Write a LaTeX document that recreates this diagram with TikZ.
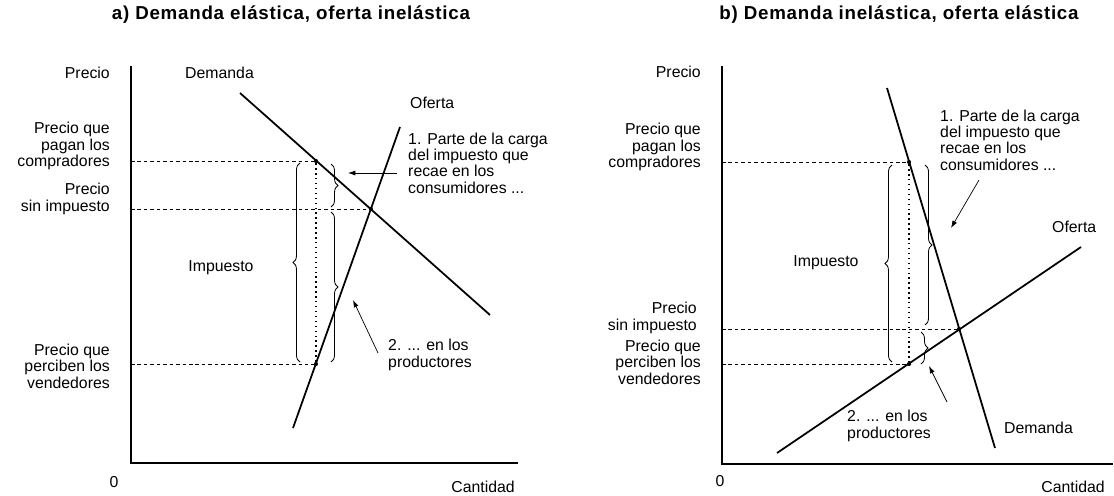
\documentclass[tikz,border=0pt]{standalone}
\usepackage{fontspec}
\setmainfont{Liberation Sans}
\newfontfamily\ttlfont[LetterSpace=4]{Liberation Sans}
\usetikzlibrary{positioning,arrows.meta,decorations.pathreplacing}

\begin{document}
\begin{tikzpicture}[
x=0.03cm, y=-0.03cm,
lbl/.style={font=\fontsize{13.5}{14}\selectfont, inner sep=0pt, align=left},
axlbl/.style={lbl, align=right, anchor=east},
ttl/.style={font=\ttlfont\fontsize{16}{16}\selectfont\bfseries, inner sep=0pt},
curve/.style={line width=1.5pt},
axis/.style={line width=1.1pt},
guide/.style={line width=0.6pt, dash pattern=on 3pt off 2.5pt},
qline/.style={line width=0.9pt, dash pattern=on 1.2pt off 3pt},
brc/.style={decorate, decoration={brace, amplitude=6pt}, line width=0.7pt},
arrow/.style={-{Latex[length=2.2mm, width=1.5mm]}, line width=0.6pt},
dot/.style={circle, fill, inner sep=0pt, minimum size=3.5pt}
]
\useasboundingbox (0,0) rectangle (1114,495);

\node[ttl] (ta) at (291,15) {a) Demanda elástica, oferta inelástica};
\coordinate (oa) at (131,463);
\draw[axis] (131,66) -- (oa) -- (518,463);
\node[lbl] (za) at (114,482) {0};
\node[lbl, anchor=east] (qa) at (515,487) {Cantidad};
\node[axlbl] (pa) at (110,73) {Precio};
\node[lbl, anchor=west] (dla) at (185,73) {Demanda};
\node[lbl, anchor=west] (ola) at (410,103) {Oferta};
\coordinate (da1) at (240,93);
\coordinate (da2) at (490,315);
\coordinate (sa1) at (293,428);
\coordinate (sa2) at (400,127);
\draw[curve] (da1) -- (da2);
\draw[curve] (sa1) -- (sa2);
\node[dot] (ba) at (316,161) {};
\node[dot] (ea) at (371,209) {};
\node[dot] (sa) at (316,364) {};
\draw[guide] (oa |- ba) -- (ba);
\draw[guide] (oa |- ea) -- (ea);
\draw[guide] (oa |- sa) -- (sa);
\draw[qline] (ba) -- (sa);
\draw[brc] (300,362) -- (300,163);
\draw[brc] (331,164) -- (331,207);
\draw[brc] (331,212) -- (331,362);
\node[lbl] (ia) at (221,268) {Impuesto};
\node[axlbl] (pba) at (110,146) {Precio que\\pagan los\\compradores};
\node[axlbl] (p0a) at (110,199) {Precio\\sin impuesto};
\node[axlbl] (psa) at (110,366) {Precio que\\perciben los\\vendedores};
\node[lbl, anchor=west] (c1a) at (408,163) {1. Parte de la carga\\del impuesto que\\recae en los\\consumidores ...};
\node[lbl, anchor=west] (c2a) at (388,355) {2. ... en los\\productores};
\coordinate (a1a) at (397,173);
\coordinate (a1b) at (348,173);
\coordinate (a2a) at (378,353);
\coordinate (a2b) at (353,300);
\draw[arrow] (a1a) -- (a1b);
\draw[arrow] (a2a) -- (a2b);

\node[ttl] (tb) at (899,15) {b) Demanda inelástica, oferta elástica};
\coordinate (ob) at (722,464);
\draw[axis] (722,66) -- (ob) -- (1113,464);
\node[lbl] (zb) at (720,481) {0};
\node[lbl, anchor=east] (qb) at (1105,487) {Cantidad};
\node[axlbl] (pb) at (701,72) {Precio};
\coordinate (db1) at (887,88);
\coordinate (db2) at (995,448);
\coordinate (sb1) at (777,453);
\coordinate (sb2) at (1081,247);
\draw[curve] (db1) -- (db2);
\draw[curve] (sb1) -- (sb2);
\node[dot] (bb) at (909,162) {};
\node[dot] (eb) at (959,329) {};
\node[dot] (sb) at (909,364) {};
\draw[guide] (ob |- bb) -- (bb);
\draw[guide] (ob |- eb) -- (eb);
\draw[guide] (ob |- sb) -- (sb);
\draw[qline] (bb) -- (sb);
\draw[brc] (892,362) -- (892,165);
\draw[brc] (925,165) -- (925,325);
\draw[brc] (921,332) -- (921,364);
\node[lbl] (ib) at (826,263) {Impuesto};
\node[axlbl] (pbb) at (701,147) {Precio que\\pagan los\\compradores};
\node[axlbl] (p0b) at (697,318) {Precio\\sin impuesto};
\node[axlbl] (psb) at (701,362) {Precio que\\perciben los\\vendedores};
\node[lbl, anchor=west] (c1b) at (940,140) {1. Parte de la carga\\del impuesto que\\recae en los\\consumidores ...};
\node[lbl, anchor=west] (olb) at (1052,227) {Oferta};
\node[lbl, anchor=west] (dlb) at (1004,428) {Demanda};
\node[lbl, anchor=west] (c2b) at (847,426) {2. ... en los\\productores};
\coordinate (a1c) at (979,180);
\coordinate (a1d) at (951,228);
\coordinate (a2c) at (947,402);
\coordinate (a2d) at (929,366);
\draw[arrow] (a1c) -- (a1d);
\draw[arrow] (a2c) -- (a2d);
\end{tikzpicture}
\end{document}
